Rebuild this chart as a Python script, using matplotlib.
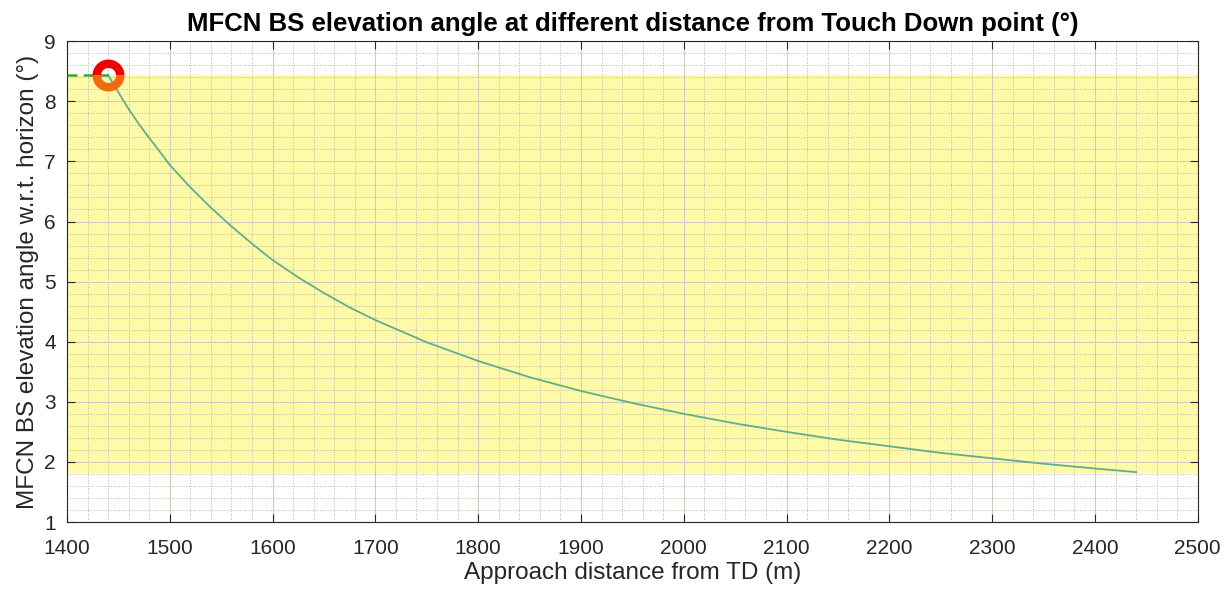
import numpy as np
import matplotlib.pyplot as plt
from matplotlib.ticker import MultipleLocator
from matplotlib.path import Path

plt.rcParams['font.family'] = ['Liberation Sans', 'DejaVu Sans']

# approach distance from TD (m) and elevation angle (deg)
dist = [1440, 1445, 1450, 1460, 1470, 1480, 1490, 1500, 1520, 1540, 1560, 1580,
        1600, 1625, 1650, 1675, 1700, 1750, 1800, 1850, 1900, 1950, 2000, 2050,
        2100, 2150, 2200, 2250, 2300, 2350, 2400, 2440]
angle = [8.44, 8.29, 8.15, 7.87, 7.62, 7.39, 7.17, 6.94, 6.57, 6.23, 5.92, 5.63,
         5.36, 5.07, 4.81, 4.57, 4.36, 3.99, 3.68, 3.41, 3.18, 2.98, 2.80, 2.64,
         2.50, 2.37, 2.26, 2.15, 2.06, 1.97, 1.89, 1.83]

band_lo = 1.83
band_hi = 8.43
td_dist = 1440
td_angle = 8.43


def half_ring(top=True, r_in=0.47, n=60):
    t = np.linspace(0, np.pi, n)
    if not top:
        t = -t
    outer = np.c_[np.cos(t), np.sin(t)]
    inner = np.c_[r_in * np.cos(t[::-1]), r_in * np.sin(t[::-1])]
    verts = np.vstack([outer, inner, outer[:1]])
    codes = [Path.MOVETO] + [Path.LINETO] * (len(verts) - 2) + [Path.CLOSEPOLY]
    return Path(verts, codes)


fig = plt.figure(figsize=(12.31, 5.97), dpi=100)
ax = fig.add_axes([0.0544, 0.1256, 0.9186, 0.8054])

ax.axhspan(band_lo, band_hi, color='#fffaa8', zorder=0)
ax.plot(dist, angle, color='#62ae8a', lw=1.3, zorder=3)
ax.plot([1400, td_dist], [td_angle, td_angle], '--', color='#3aa83a', lw=1.8,
        dashes=(4, 2.5), zorder=3)

# ring marker: red upper half, orange lower half
ax.plot(td_dist, td_angle, marker=half_ring(True), ms=23, mec='none', mfc='#ee0000',
        ls='none', zorder=4)
ax.plot(td_dist, td_angle, marker=half_ring(False), ms=23, mec='none', mfc='#f26a10',
        ls='none', zorder=4)

ax.set_xlim(1400, 2500)
ax.set_ylim(1, 9)
ax.xaxis.set_major_locator(MultipleLocator(100))
ax.xaxis.set_minor_locator(MultipleLocator(20))
ax.yaxis.set_major_locator(MultipleLocator(1))
ax.yaxis.set_minor_locator(MultipleLocator(0.2))
ax.grid(which='major', color='#cdcdc0', lw=0.8)
ax.grid(which='minor', color='#b8b8a8', lw=0.7, ls=':')
ax.set_axisbelow(True)
ax.tick_params(which='major', direction='in', length=6, labelsize=15, colors='#262626',
               top=True, right=True)
ax.tick_params(axis='x', pad=12)
ax.tick_params(axis='y', pad=8)
ax.tick_params(which='minor', length=0)
for s in ax.spines.values():
    s.set_color('#262626')
    s.set_linewidth(0.8)

ax.set_xlabel('Approach distance from TD (m)', fontsize=17.5, color='#262626', labelpad=3)
ax.set_ylabel('MFCN BS elevation angle w.r.t. horizon (°)', fontsize=17.5, color='#262626',
              labelpad=4)
ax.set_title('MFCN BS elevation angle at different distance from Touch Down point (°)',
             fontsize=18.5, fontweight='bold', pad=7)

fig.savefig('out.png', dpi=100)
